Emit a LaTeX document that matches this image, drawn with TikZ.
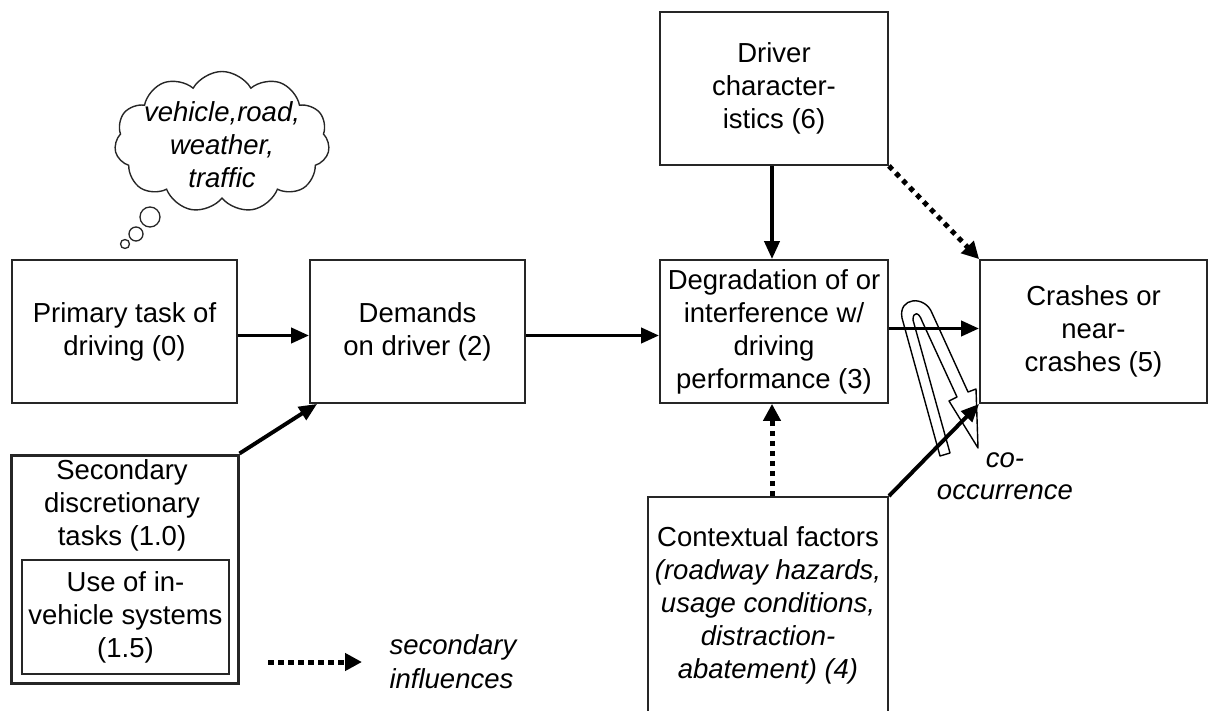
\documentclass[tikz,border=0pt]{standalone}
\usepackage{fontspec}
\setmainfont{Liberation Sans}
\usetikzlibrary{shapes.symbols,arrows.meta}

\begin{document}
\begin{tikzpicture}[x=1pt,y=-1pt,
  every node/.style={font=\fontsize{27.5}{33}\selectfont},
  box/.style={draw=black!85, line width=1.8pt, align=center, inner sep=0pt},
  arr/.style={line width=3.9pt, -{Triangle[length=18pt,width=15pt]}},
  dotarr/.style={line width=5pt, dash pattern=on 5pt off 5pt,
                 -{Triangle[length=17pt,width=17pt]}},
  hollow/.style={draw=black, line width=1.4pt, fill=white, line join=round},
  bubble/.style={circle, draw=black!85, line width=1.3pt, inner sep=0pt}]

\useasboundingbox (0,0) rectangle (1214,711);

% thought cloud with its trailing bubbles
\node[cloud, draw=black!85, line width=1.4pt, cloud puffs=11, cloud puff arc=120,
      aspect=1.5, minimum width=215pt, minimum height=141pt, inner sep=0pt]
      (cloud) at (222,142) {};
\node[align=center, font=\fontsize{27.5}{33}\selectfont\itshape]
      (cloudtext) at (222,145) {vehicle,road,\\weather,\\traffic};
\node[bubble, minimum size=20pt] (bub1) at (150,217) {};
\node[bubble, minimum size=14pt] (bub2) at (136,234) {};
\node[bubble, minimum size=9pt]  (bub3) at (125,244) {};

% main boxes
\node[box, minimum width=225pt, minimum height=143pt] (b0) at (124.5,331.5)
  {Primary task of\\driving (0)};
\node[box, minimum width=215pt, minimum height=143pt] (b2) at (417.5,331.5)
  {Demands\\on driver (2)};
\node[box, minimum width=228pt, minimum height=143pt] (b3) at (774,331.5)
  {Degradation of or\\interference w/\\driving\\performance (3)};
\node[box, minimum width=228pt, minimum height=153pt] (b6) at (774,88.5)
  {Driver\\character-\\istics (6)};
\node[box, minimum width=227pt, minimum height=143pt] (b5) at (1093.5,331.5)
  {Crashes or\\near-\\crashes (5)};

% secondary tasks frame with the nested in-vehicle box
\node[box, line width=3pt, minimum width=227pt, minimum height=228pt] (b1) at (124.5,569) {};
\node[align=center] (b1text) at (122,505) {Secondary\\discretionary\\tasks (1.0)};
\node[box, line width=1.6pt, minimum width=207pt, minimum height=114pt] (b15) at (125.5,617)
  {Use of in-\\vehicle systems\\(1.5)};

% contextual factors (runs past the lower edge)
\node[box, minimum width=240pt, minimum height=216pt] (b4) at (768,605)
  {Contextual factors\\\textit{(roadway hazards,}\\\textit{usage conditions,}\\\textit{distraction-}\\\textit{abatement) (4)}};

% hollow curved co-occurrence arrow
\draw[hollow] (940,456) -- (902,318) .. controls (898,297) and (925,295) .. (932,313)
  -- (968,392) -- (976,389) -- (978,448) -- (949,401) -- (957,397)
  -- (922,321) .. controls (919,312) and (913,311) .. (913,320) -- (950,453) -- cycle;
\node[align=center, font=\fontsize{27.5}{32}\selectfont\itshape]
  (cooc) at (1005,476) {co-\\occurrence};

% direct influences
\draw[arr] ([yshift=-4pt]b0.east) -- ([yshift=-4pt]b2.west);
\draw[arr] ([yshift=-4pt]b2.east) -- ([yshift=-4pt]b3.west);
\draw[arr] ([yshift=3pt]b3.east) -- ([yshift=3pt]b5.west);
\draw[arr] ([xshift=-2pt]b6.south) -- ([xshift=-2pt]b3.north);
\draw[arr] (b1.north east) -- ([xshift=8pt]b2.south west);
\draw[arr] (b4.north east) -- (b5.south west);

% secondary influences
\draw[dotarr] (b6.south east) -- (b5.north west);
\draw[dotarr] ([xshift=-2pt]b3.south |- b4.north) -- ([xshift=-2pt]b3.south);

% legend
\coordinate (lgA) at (268,662);
\coordinate (lgB) at (362,662);
\draw[dotarr, dash pattern=on 6pt off 4pt] (lgA) -- (lgB);
\node[anchor=west, align=left, font=\fontsize{27.5}{34}\selectfont\itshape]
  (legend) at (386,662) {secondary\\influences};

\end{tikzpicture}
\end{document}
